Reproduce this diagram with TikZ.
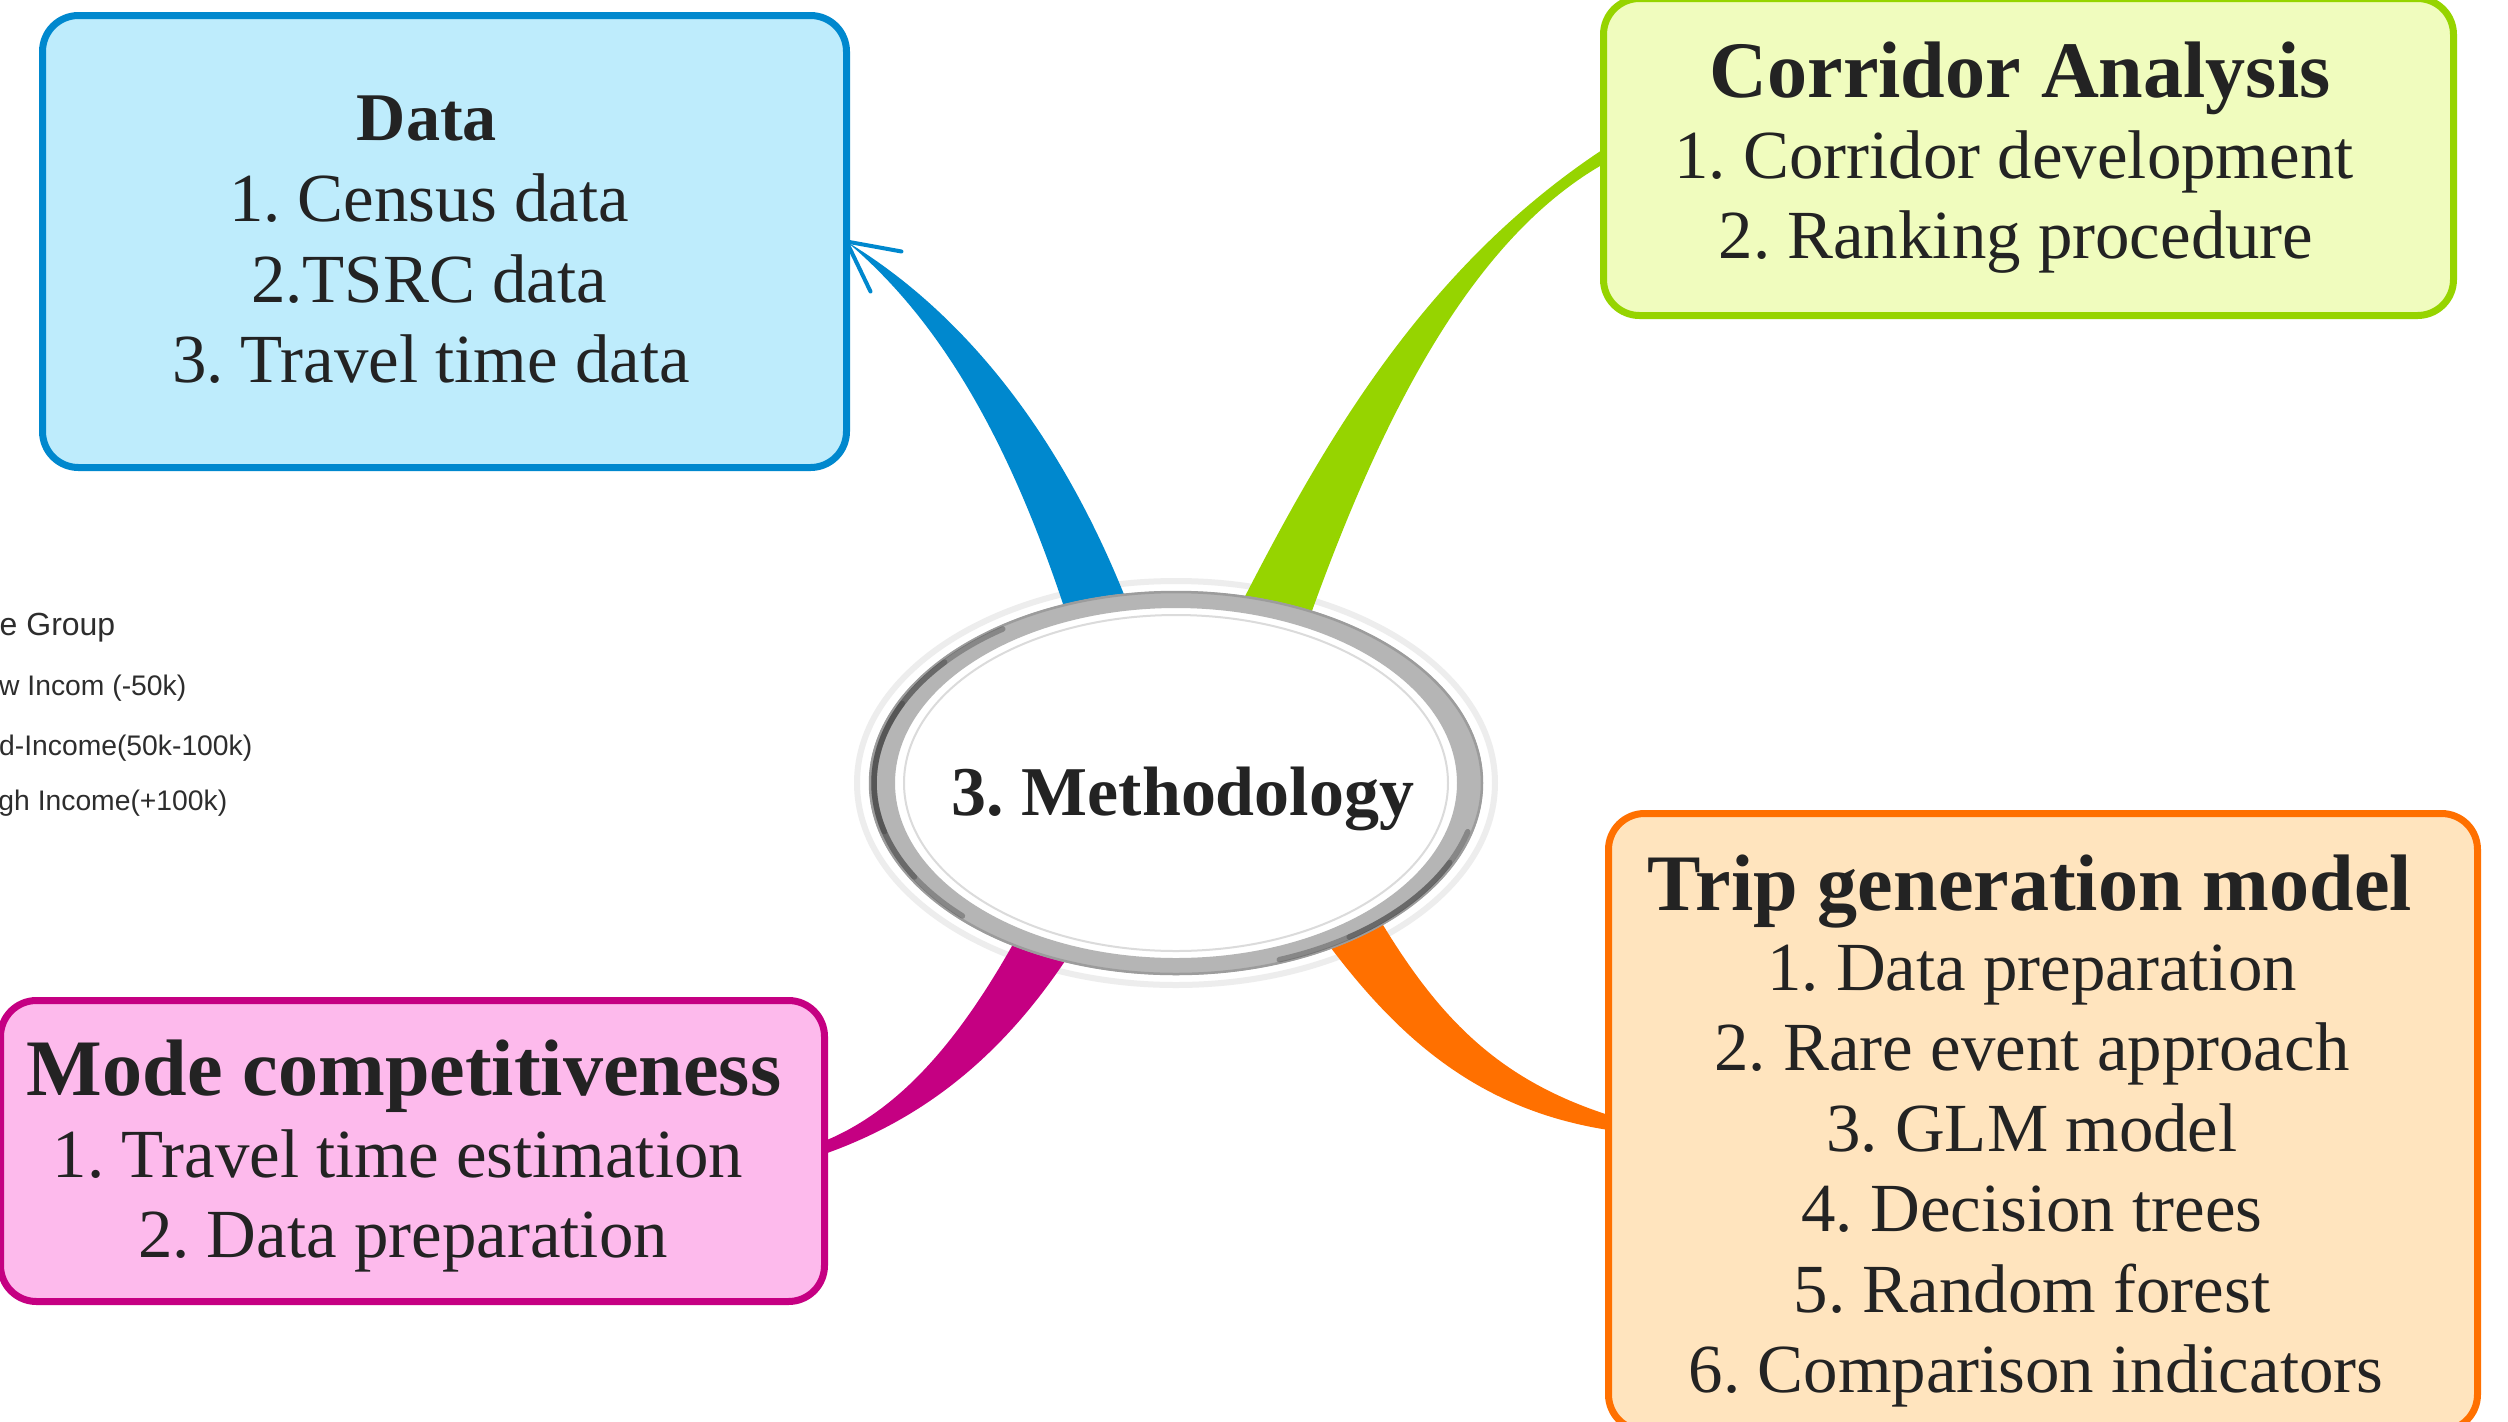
\documentclass[tikz,border=0pt]{standalone}
\usepackage{fontspec}
\setmainfont{Liberation Serif}
\newfontfamily\legfont{Liberation Sans}
\usetikzlibrary{shapes.geometric,calc}
\definecolor{dataFill}{RGB}{190,236,252}
\definecolor{dataLine}{RGB}{0,136,206}
\definecolor{corrFill}{RGB}{240,252,190}
\definecolor{corrLine}{RGB}{150,212,0}
\definecolor{tripFill}{RGB}{255,228,190}
\definecolor{tripLine}{RGB}{255,112,0}
\definecolor{modeFill}{RGB}{253,186,236}
\definecolor{modeLine}{RGB}{197,0,130}
\definecolor{textc}{RGB}{35,35,35}
\definecolor{legc}{RGB}{45,45,45}
\frenchspacing
\begin{document}
\begin{tikzpicture}[x=0.1mm,y=-0.1mm,
  topicbox/.style={rectangle, rounded corners=3.6mm, line width=0.7mm, inner sep=0pt, outer sep=0pt},
  itemtext/.style={anchor=base, inner sep=0pt, text=textc, font=\fontsize{19.6pt}{23pt}\selectfont},
  titletext/.style={anchor=base, inner sep=0pt, text=textc, font=\fontsize{22.8pt}{26pt}\selectfont\bfseries},
  legtext/.style={anchor=base east, inner sep=0pt, text=legc, font=\legfont\fontsize{8.05pt}{10pt}\selectfont},
  shadearc/.style={gray!40!black, line width=0.55mm, line cap=round, opacity=0.35}
]
\useasboundingbox (0,0) rectangle (2508,1421);
\fill[white] (0,0) rectangle (2508,1421);

% stray legend fragments
\node[legtext, font=\legfont\fontsize{9.1pt}{11pt}\selectfont] (lg0) at (116,635) {e Group};
\node[legtext] (lg1) at (187,695) {w Incom (-50k)};
\node[legtext] (lg2) at (253,755) {d-Income(50k-100k)};
\node[legtext] (lg3) at (228,810) {gh Income(+100k)};

% boxes
\node[topicbox, fill=dataFill, draw=dataLine, minimum width=80.4mm, minimum height=45.2mm] (data) at (444.5,241.5) {};
\node[topicbox, fill=corrFill, draw=corrLine, minimum width=85mm, minimum height=31.7mm] (corr) at (2028.5,157) {};
\node[topicbox, fill=tripFill, draw=tripLine, minimum width=86.9mm, minimum height=61.7mm] (trip) at (2043,1122) {};
\node[topicbox, fill=modeFill, draw=modeLine, minimum width=82.4mm, minimum height=30.1mm] (mode) at (412.5,1151) {};

% central ellipse node (white area)
\node[ellipse, fill=white, minimum width=61.4mm, minimum height=38.4mm, inner sep=0pt, outer sep=0pt] (meth) at (1176,783) {};

% halo
\draw[gray!14, line width=0.6mm] (meth.center) ellipse [x radius=31.9mm, y radius=20.2mm];

% ribbon base coordinates
\coordinate (bA) at (1068,619);
\coordinate (bB) at (1129,607);
\coordinate (gA) at (1239,608);
\coordinate (gB) at (1308,622);
\coordinate (mA) at (1017,937);
\coordinate (mB) at (1069,955);
\coordinate (oA) at (1380,920);
\coordinate (oB) at (1328,944);

% ribbons
\fill[dataLine] (bA) .. controls (1010,440) and (940,320) .. (data.east)
  .. controls (960,310) and (1060,430) .. (bB) -- cycle;
\draw[dataLine, line width=0.4mm, line cap=round] ($(data.east)+(55,10)$) -- (data.east) -- ($(data.east)+(24,50)$);
\fill[corrLine] (gA) .. controls (1320,450) and (1420,270) .. ($(corr.west)+(0,-8)$)
  -- ($(corr.west)+(0,7)$) .. controls (1470,240) and (1380,420) .. (gB) -- cycle;
\fill[modeLine] (mA) .. controls (960,1040) and (900,1110) .. ($(mode.east)+(0,-10)$)
  -- ($(mode.east)+(0,3)$) .. controls (920,1120) and (1000,1060) .. (mB) -- cycle;
\fill[tripLine] (oA) .. controls (1440,1020) and (1500,1080) .. ($(trip.west)+(0,-7)$)
  -- ($(trip.west)+(0,8)$) .. controls (1480,1110) and (1400,1040) .. (oB) -- cycle;

% ellipse cover and ring
\fill[white] (meth.center) ellipse [x radius=30.5mm, y radius=19.0mm];
\fill[gray!58, even odd rule] (meth.center) ellipse [x radius=30.7mm, y radius=19.2mm]
  (meth.center) ellipse [x radius=28.1mm, y radius=17.5mm];
\draw[gray!78, line width=0.25mm] (meth.center) ellipse [x radius=30.6mm, y radius=19.1mm];
\draw[shadearc] ([shift={(125:30.2mm and 18.8mm)}]meth.center)
  arc [start angle=125, end angle=225, x radius=30.2mm, y radius=18.8mm];
\draw[shadearc] ([shift={(140:30.2mm and 18.8mm)}]meth.center)
  arc [start angle=140, end angle=210, x radius=30.2mm, y radius=18.8mm];
\draw[shadearc] ([shift={(155:30.2mm and 18.8mm)}]meth.center)
  arc [start angle=155, end angle=195, x radius=30.2mm, y radius=18.8mm];
\draw[shadearc] ([shift={(290:30.2mm and 18.8mm)}]meth.center)
  arc [start angle=290, end angle=345, x radius=30.2mm, y radius=18.8mm];
\draw[shadearc] ([shift={(305:30.2mm and 18.8mm)}]meth.center)
  arc [start angle=305, end angle=335, x radius=30.2mm, y radius=18.8mm];
\draw[gray!28, line width=0.2mm] (meth.center) ellipse [x radius=27.2mm, y radius=16.8mm];
\node[anchor=base, inner sep=0pt, text=textc, font=\fontsize{19.9pt}{24pt}\selectfont\bfseries] (mtext) at (1183,815) {3. Methodology};

% Data text
\node[anchor=base, inner sep=0pt, text=textc, font=\fontsize{19.4pt}{23pt}\selectfont\bfseries] (d0) at (427,140) {Data};
\node[itemtext] (d1) at (429,221) {1. Census data};
\node[itemtext] (d2) at (429,302) {2.TSRC data};
\node[itemtext] (d3) at (431,382) {3. Travel time data};

% Corridor text
\node[titletext] (c0) at (2020,97) {Corridor Analysis};
\node[itemtext] (c1) at (2014,178) {1. Corridor development};
\node[itemtext] (c2) at (2016,258) {2. Ranking procedure};

% Trip text
\node[titletext] (t0) at (2030,910) {Trip generation model};
\node[itemtext] (t1) at (2032,990) {1. Data preparation};
\node[itemtext] (t2) at (2032,1070) {2. Rare event approach};
\node[itemtext] (t3) at (2032,1151) {3. GLM model};
\node[itemtext] (t4) at (2032,1231) {4. Decision trees};
\node[itemtext] (t5) at (2032,1312) {5. Random forest};
\node[itemtext] (t6) at (2036,1392) {6. Comparison indicators};

% Mode text
\node[titletext] (m0) at (404,1095) {Mode competitiveness};
\node[itemtext] (m1) at (398,1177) {1. Travel time estimation};
\node[itemtext] (m2) at (403,1257) {2. Data preparation};
\end{tikzpicture}
\end{document}
